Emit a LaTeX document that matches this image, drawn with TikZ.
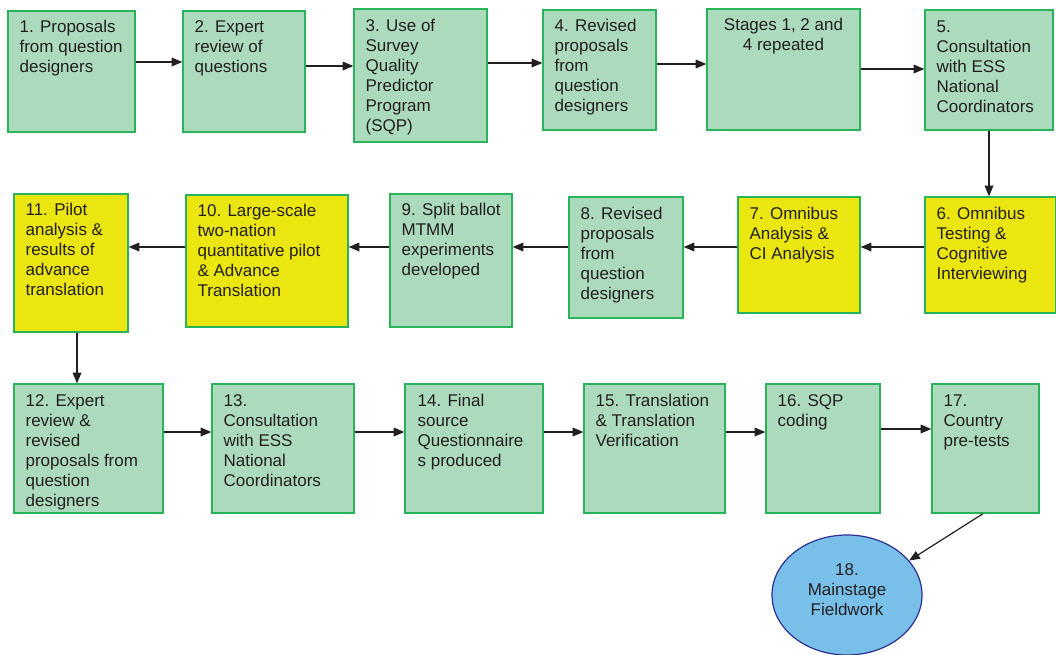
\documentclass[tikz,border=0pt]{standalone}
\usepackage{fontspec}
\setmainfont{Liberation Sans}
\usetikzlibrary{arrows.meta,fit,shapes.geometric}
\definecolor{boxgreen}{RGB}{171,218,188}
\definecolor{edgegreen}{RGB}{40,180,90}
\definecolor{boxyellow}{RGB}{236,230,16}
\definecolor{ellblue}{RGB}{120,192,234}
\definecolor{elledge}{RGB}{46,49,146}
\definecolor{txtc}{RGB}{35,31,32}
\begin{document}
\begin{tikzpicture}[x=0.75pt,y=-0.75pt,
  gbox/.style={draw=edgegreen, line width=1pt, fill=boxgreen, inner sep=0pt},
  ybox/.style={gbox, fill=boxyellow},
  txt/.style={anchor=north west, inner sep=0pt, align=left, text=txtc, font=\fontsize{12.75}{15}\selectfont},
  ctxt/.style={txt, anchor=north, align=center},
  arr/.style={draw=txtc, line width=0.9pt, -{Triangle[length=8pt,width=6.5pt]}}]
\useasboundingbox[fill=white] (0,0) rectangle (1056,654);

% Row 1
\node[gbox, fit={(8,11) (135,132)}] (b1) {};
\node[gbox, fit={(183,11) (305,132)}] (b2) {};
\node[gbox, fit={(354,9) (487,142)}] (b3) {};
\node[gbox, fit={(543,10) (656,130)}] (b4) {};
\node[gbox, fit={(707,9) (860,130)}] (bs) {};
\node[gbox, fit={(925,10) (1053,130)}] (b5) {};
% Row 2
\node[ybox, fit={(925,197) (1056,313)}] (b6) {};
\node[ybox, fit={(738,197) (860,313)}] (b7) {};
\node[gbox, fit={(569,197) (683,318)}] (b8) {};
\node[gbox, fit={(390,194) (512,327)}] (b9) {};
\node[ybox, fit={(186,195) (348,327)}] (b10) {};
\node[ybox, fit={(14,194) (128,332)}] (b11) {};
% Row 3
\node[gbox, fit={(14,384) (163,513)}] (b12) {};
\node[gbox, fit={(212,384) (354,513)}] (b13) {};
\node[gbox, fit={(405,384) (543,513)}] (b14) {};
\node[gbox, fit={(584,384) (725,513)}] (b15) {};
\node[gbox, fit={(766,384) (880,513)}] (b16) {};
\node[gbox, fit={(932,384) (1039,513)}] (b17) {};
\node[ellipse, draw=elledge, line width=0.9pt, fill=ellblue, minimum width=112.5pt, minimum height=90pt, inner sep=0pt] (e18) at (847,595) {};
\node[align=center, inner sep=0pt, text=txtc, font=\fontsize{12.75}{15}\selectfont] (t18) at ([yshift=4pt]e18.center) {18.\\Mainstage\\Fieldwork};

% Texts
\node[txt] (t1) at ([shift={(12,10)}]b1.north west) {1. Proposals\\from question\\designers};
\node[txt] (t2) at ([shift={(12,10)}]b2.north west) {2. Expert\\review of\\questions};
\node[txt] (t3) at ([shift={(12,11)}]b3.north west) {3. Use of\\Survey\\Quality\\Predictor\\Program\\(SQP)};
\node[txt] (t4) at ([shift={(12,10)}]b4.north west) {4. Revised\\proposals\\from\\question\\designers};
\node[ctxt] (ts) at ([shift={(0,10)}]bs.north) {Stages 1, 2 and\\4 repeated};
\node[txt] (t5) at ([shift={(12,11)}]b5.north west) {5.\\Consultation\\with ESS\\National\\Coordinators};
\node[txt] (t6) at ([shift={(12,11)}]b6.north west) {6. Omnibus\\Testing \&\\Cognitive\\Interviewing};
\node[txt] (t7) at ([shift={(12,11)}]b7.north west) {7. Omnibus\\Analysis \&\\CI Analysis};
\node[txt] (t8) at ([shift={(12,11)}]b8.north west) {8. Revised\\proposals\\from\\question\\designers};
\node[txt] (t9) at ([shift={(12,10)}]b9.north west) {9. Split ballot\\MTMM\\experiments\\developed};
\node[txt] (t10) at ([shift={(12,10)}]b10.north west) {10. Large-scale\\two-nation\\quantitative pilot\\\& Advance\\Translation};
\node[txt] (t11) at ([shift={(12,10)}]b11.north west) {11. Pilot\\analysis \&\\results of\\advance\\translation};
\node[txt] (t12) at ([shift={(12,11)}]b12.north west) {12. Expert\\review \&\\revised\\proposals from\\question\\designers};
\node[txt] (t13) at ([shift={(12,11)}]b13.north west) {13.\\Consultation\\with ESS\\National\\Coordinators};
\node[txt] (t14) at ([shift={(13,11)}]b14.north west) {14. Final\\source\\Questionnaire\\s produced};
\node[txt] (t15) at ([shift={(12,11)}]b15.north west) {15. Translation\\\& Translation\\Verification};
\node[txt] (t16) at ([shift={(12,11)}]b16.north west) {16. SQP\\coding};
\node[txt] (t17) at ([shift={(12,11)}]b17.north west) {17.\\Country\\pre-tests};

% Arrows row 1
\draw[arr] (b1.east |- 0,62) -- (b2.west |- 0,62);
\draw[arr] (b2.east |- 0,66) -- (b3.west |- 0,66);
\draw[arr] (b3.east |- 0,63) -- (b4.west |- 0,63);
\draw[arr] (b4.east |- 0,64) -- (bs.west |- 0,64);
\draw[arr] (bs.east |- 0,69) -- (b5.west |- 0,69);
\draw[arr] (b5.south -| 989,0) -- (b6.north -| 989,0);
% Row 2
\draw[arr] (b6.west |- 0,247) -- (b7.east |- 0,247);
\draw[arr] (b7.west |- 0,247) -- (b8.east |- 0,247);
\draw[arr] (b8.west |- 0,247) -- (b9.east |- 0,247);
\draw[arr] (b9.west |- 0,247) -- (b10.east |- 0,247);
\draw[arr] (b10.west |- 0,247) -- (b11.east |- 0,247);
\draw[arr] (b11.south -| 77,0) -- (b12.north -| 77,0);
% Row 3
\draw[arr] (b12.east |- 0,432) -- (b13.west |- 0,432);
\draw[arr] (b13.east |- 0,432) -- (b14.west |- 0,432);
\draw[arr] (b14.east |- 0,432) -- (b15.west |- 0,432);
\draw[arr] (b15.east |- 0,432) -- (b16.west |- 0,432);
\draw[arr] (b16.east |- 0,429) -- (b17.west |- 0,429);
\draw[arr] (b17.south -| 983,0) -- (e18.29);
\end{tikzpicture}
\end{document}
